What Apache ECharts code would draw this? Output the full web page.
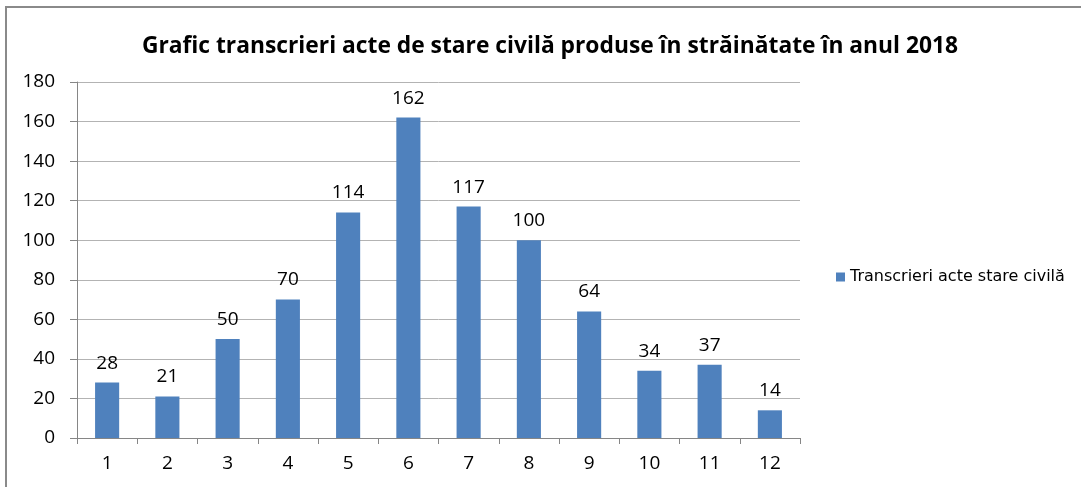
<!DOCTYPE html>
<html>
<head>
<meta charset="utf-8">
<script src="https://cdn.jsdelivr.net/npm/echarts@6/dist/echarts.min.js"></script>
<style>
  html, body { margin: 0; padding: 0; background: #fff; }
  #chart { width: 1081px; height: 487px; }
</style>
</head>
<body>
<div id="chart"></div>
<script>
// grafic transcrieri acte 2018
var luni = ['1', '2', '3', '4', '5', '6', '7', '8', '9', '10', '11', '12'];
var transcrieri = [28, 21, 50, 70, 114, 162, 117, 100, 64, 34, 37, 14];
var numeSerie = 'Transcrieri acte stare civilă';
var titlu = 'Grafic transcrieri acte de stare civilă produse în străinătate în anul 2018';

var chart = echarts.init(document.getElementById('chart'));
var option = {
  animation: false,
  title: {
    text: titlu,
    left: 545,
    textAlign: 'center',
    top: 30,
    textStyle: {
      fontFamily: 'Open Sans',
      fontSize: 22.8,
      fontWeight: 'bold',
      color: '#000'
    }
  },
  graphic: [{
    type: 'rect',
    shape: { x: 6, y: 7, width: 1200, height: 600 },
    style: { fill: 'none', stroke: '#8a8a8a', lineWidth: 2 },
    silent: true
  }],
  legend: {
    data: [numeSerie],
    left: 831,
    top: 264,
    itemWidth: 9,
    itemHeight: 9,
    itemGap: 5,
    icon: 'rect',
    textStyle: {
      fontFamily: 'DejaVu Sans',
      fontSize: 16,
      color: '#000'
    }
  },
  grid: {
    left: 77,
    right: 281,
    top: 82,
    bottom: 49
  },
  xAxis: {
    type: 'category',
    data: luni,
    axisLine: { lineStyle: { color: '#868686', width: 1 } },
    axisTick: { show: true, length: 6, lineStyle: { color: '#868686' } },
    axisLabel: {
      fontFamily: 'Open Sans',
      fontSize: 19,
      color: '#000',
      margin: 16
    }
  },
  yAxis: {
    type: 'value',
    min: 0,
    max: 180,
    interval: 20,
    axisLine: { show: true, lineStyle: { color: '#868686' } },
    axisTick: { show: true, length: 7, lineStyle: { color: '#868686' } },
    splitLine: { lineStyle: { color: '#b3b3b3', width: 1 } },
    axisLabel: {
      fontFamily: 'Open Sans',
      fontSize: 19,
      color: '#000',
      margin: 22
    }
  },
  series: [{
    name: numeSerie,
    type: 'bar',
    data: transcrieri,
    barWidth: '40%',
    itemStyle: { color: '#4f81bd' },
    label: {
      show: true,
      position: 'top',
      distance: 10,
      fontFamily: 'Open Sans',
      fontSize: 19,
      color: '#000'
    }
  }]
};
chart.setOption(option);
</script>
</body>
</html>
